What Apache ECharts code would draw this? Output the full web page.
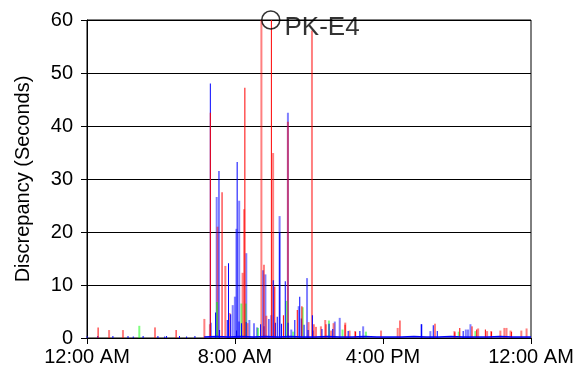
<!DOCTYPE html>
<html>
<head>
<meta charset="utf-8">
<script src="https://cdn.jsdelivr.net/npm/echarts@6/dist/echarts.min.js"></script>
<style>
  html, body { margin: 0; padding: 0; background: #fff; }
  #chart { width: 579px; height: 377px; }
</style>
</head>
<body>
<div id="chart"></div>
<script>
// Time of day in minutes after midnight, discrepancy in seconds.
const xTickLabels = ['12:00 AM', '8:00 AM', '4:00 PM', '12:00 AM'];
const yAxisTitle = 'Discrepancy (Seconds)';

const redSolid = [
  [36, 2.0], [289, 1.5], [400, 42.5], [438, 27.5], [512, 47.2], [574, 13.8],
  [598, 60], [609, 9.7], [637, 4.3], [682, 5.3], [697, 6.0], [736, 2.6],
  [775, 2.6], [837, 2.5], [871, 1.2], [1015, 3.3], [1193, 1.1], [1209, 1.9],
  [1264, 1.6], [1292, 1.6], [1312, 1.2], [1377, 1.2]
];
const redLight = [
  [70, 1.5], [115, 1.5], [219, 2.0], [379, 3.6], [397, 2.6], [422, 21.0],
  [447, 13.6], [461, 4.7], [503, 12.3], [508, 24.3], [519, 2.8], [564, 60],
  [580, 4.2], [602, 34.9], [650, 40.8], [717, 3.0], [728, 58.0], [741, 2.1],
  [757, 2.2], [771, 3.4], [790, 1.4], [798, 2.8], [836, 2.9], [850, 1.4],
  [868, 1.3], [952, 1.4], [1006, 1.9], [1127, 2.7], [1190, 1.3], [1247, 2.2],
  [1267, 1.8], [1296, 1.3], [1309, 1.3], [1339, 1.4], [1352, 1.9], [1359, 1.9],
  [1372, 1.4], [1407, 1.4], [1424, 1.8]
];
const blueSolid = [
  [400, 48.0], [428, 31.5], [459, 14.1], [487, 33.2], [571, 12.8], [604, 10.9],
  [625, 19.8], [643, 10.7], [690, 7.8], [731, 4.3], [762, 1.7], [785, 2.7],
  [797, 1.7], [847, 1.3], [885, 1.3], [1085, 2.6], [1123, 2.4], [1136, 1.3],
  [1220, 1.3],
  [417, 4.8], [402, 2.9], [430, 1.5], [455, 3.4], [466, 4.5], [485, 1.4],
  [493, 3.1], [501, 2.8], [516, 3.0], [563, 2.6], [574, 2.2], [590, 3.6],
  [611, 2.9], [617, 4.0], [631, 2.7], [652, 2.9], [674, 3.4], [695, 3.7],
  [704, 2.5], [717, 1.5], [733, 1.4],
  [0, 0.4], [35, 0.4], [84, 0.4], [133, 0.4], [150, 0.3], [182, 0.4],
  [230, 0.4], [252, 0.3], [258, 0.4], [300, 0.4], [323, 0.3], [350, 0.4]
];
const blueLight = [
  [419, 26.6], [471, 6.2], [478, 7.8], [483, 20.6], [492, 25.9], [515, 16.0],
  [525, 3.4], [540, 2.8], [550, 2.0], [577, 12.0], [596, 4.3], [623, 23.0],
  [650, 42.5], [661, 1.6], [685, 6.0], [712, 11.3], [802, 3.1], [818, 3.8],
  [894, 2.2], [1083, 2.6], [1112, 1.3], [1227, 1.6], [1234, 1.6], [1242, 2.6]
];
const greenLight = [
  [168, 2.3], [420, 6.8], [499, 6.5], [513, 6.5], [553, 1.9], [645, 7.0],
  [667, 1.2], [698, 5.8], [783, 3.3], [827, 1.6], [903, 1.2], [1204, 1.2],
  [1258, 1.3]
];
// Low-level readings that hug the zero line through the day.
const blueTrace = [
  [380, 0.2], [420, 0.3], [460, 0.2], [500, 0.3], [540, 0.2], [580, 0.3],
  [620, 0.2], [660, 0.3], [700, 0.2], [740, 0.2], [780, 0.3], [820, 0.2],
  [860, 0.2], [900, 0.3], [940, 0.2], [980, 0.2], [1020, 0.2], [1060, 0.3],
  [1100, 0.2], [1140, 0.2], [1180, 0.3], [1220, 0.2], [1260, 0.2], [1300, 0.2],
  [1340, 0.3], [1380, 0.2], [1440, 0.2]
];
const annotationPoint = [[596, 60]];
const annotationText = 'PK-E4';

const FONT = '"Liberation Sans", Arial, sans-serif';

function bars(name, data, color, opacity, width) {
  return {
    name, type: 'bar', data,
    barWidth: width, barGap: '-100%',
    itemStyle: { color, opacity },
    emphasis: { disabled: true },
    animation: false
  };
}

const chart = echarts.init(document.getElementById('chart'), null, { renderer: 'canvas' });
chart.setOption({
  backgroundColor: '#fff',
  animation: false,
  grid: {
    left: 87, right: 48, top: 20, bottom: 39,
    show: true, borderColor: '#000', borderWidth: 1, backgroundColor: 'transparent'
  },
  xAxis: {
    type: 'value', min: 0, max: 1440, interval: 480,
    axisLine: { show: true, onZero: false, lineStyle: { color: '#000', width: 1 } },
    axisTick: { show: true, inside: false, length: 6, lineStyle: { color: '#000' } },
    splitLine: { show: false },
    axisLabel: {
      color: '#000', fontFamily: FONT, fontSize: 20, margin: 9,
      formatter: v => xTickLabels[Math.round(v / 480)]
    }
  },
  yAxis: {
    type: 'value', min: 0, max: 60, interval: 10,
    name: yAxisTitle, nameLocation: 'middle', nameGap: 54,
    nameTextStyle: { color: '#000', fontFamily: FONT, fontSize: 20 },
    axisLine: { show: true, lineStyle: { color: '#000', width: 1 } },
    axisTick: { show: true, inside: false, length: 6, lineStyle: { color: '#000' } },
    splitLine: { show: true, lineStyle: { color: '#000', width: 1 } },
    axisLabel: { color: '#000', fontFamily: FONT, fontSize: 20, margin: 14 }
  },
  series: [
    bars('Sensor B (low)', blueLight, '#0000ff', 0.5, 2),
    bars('Sensor A (low)', redLight, '#ff0000', 0.5, 2),
    bars('Sensor C', greenLight, '#00ff00', 0.5, 2),
    bars('Sensor B', blueSolid, '#0000ff', 1, 1),
    bars('Sensor A', redSolid, '#ff0000', 1, 1),
    {
      name: 'Trace', type: 'line', data: blueTrace, showSymbol: false,
      lineStyle: { color: '#0000ff', width: 1.5 }, silent: true, animation: false
    },
    {
      name: 'Peak', type: 'scatter', data: annotationPoint, clip: false,
      symbol: 'circle', symbolSize: 18,
      itemStyle: { color: 'transparent', borderColor: '#000', borderWidth: 1.5 },
      label: {
        show: true, position: 'right', distance: 4, offset: [0, 8],
        formatter: annotationText, color: '#000', fontFamily: FONT, fontSize: 26
      },
      emphasis: { disabled: true }, silent: true, z: 10, animation: false
    }
  ]
});
</script>
</body>
</html>
